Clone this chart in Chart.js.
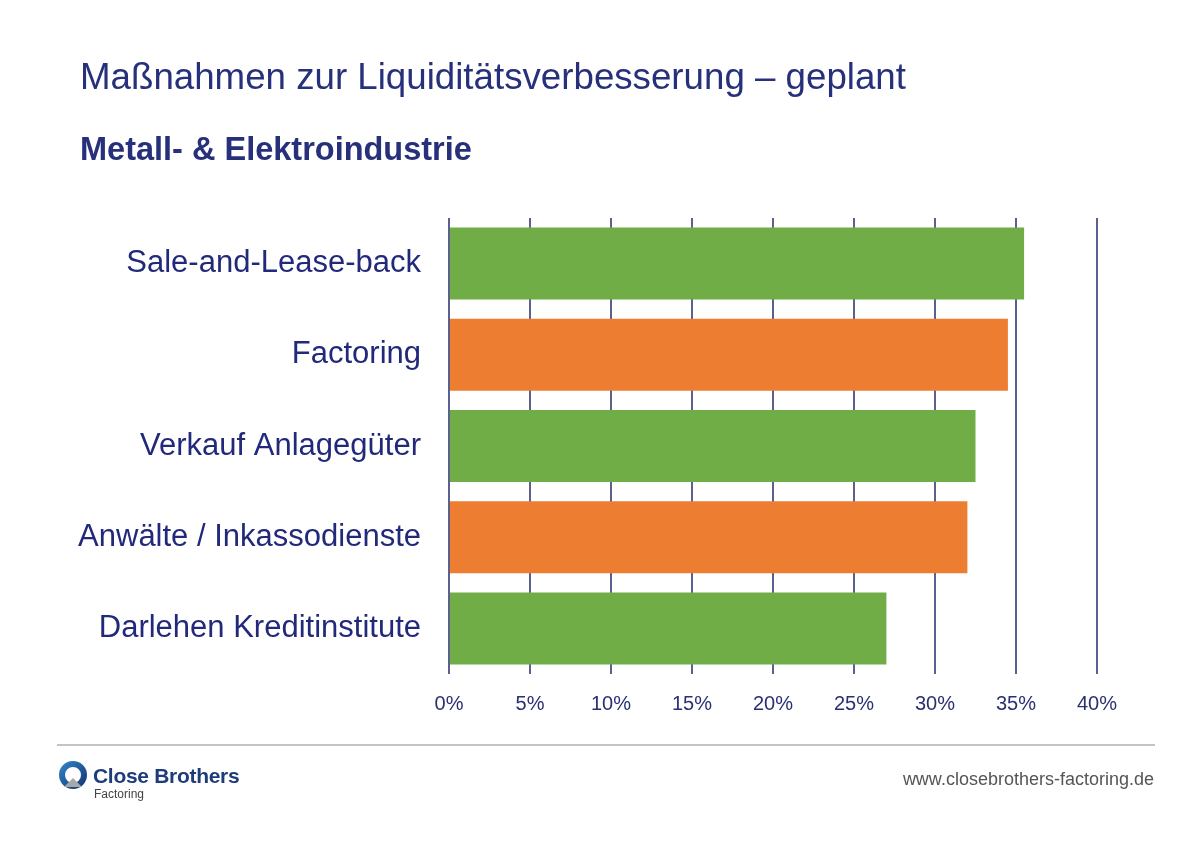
<!DOCTYPE html>
<html>
<head>
<meta charset="utf-8">
<script src="https://cdn.jsdelivr.net/npm/chart.js@4"></script>
<style>
  body { margin: 0; background: #fff; font-family: "Liberation Sans", Arial, sans-serif; }
  #wrap { position: relative; width: 1203px; height: 845px; overflow: hidden; }
  #chart { position: absolute; left: 0; top: 0; }
  .title { position: absolute; left: 80px; top: 56px; font-size: 36.7px; color: #27307a; white-space: nowrap; }
  .sub { position: absolute; left: 80px; top: 131px; font-size: 32.5px; font-weight: bold; color: #27307a; white-space: nowrap; }
  .rule { position: absolute; left: 57px; top: 744px; width: 1098px; height: 2px; background: #c4c4c4; }
  .logo { position: absolute; left: 58px; top: 760px; }
  .brand { position: absolute; left: 93px; top: 764px; font-size: 21px; font-weight: bold; color: #1f3c7a; letter-spacing: -0.3px; }
  .brand2 { position: absolute; left: 94px; top: 787px; font-size: 12px; color: #444; }
  .url { position: absolute; right: 49px; top: 769px; font-size: 18px; color: #555; }
</style>
</head>
<body>
<div id="wrap">
  <canvas id="chart" width="1203" height="845"></canvas>
  <div class="title">Maßnahmen zur Liquiditätsverbesserung – geplant</div>
  <div class="sub">Metall- &amp; Elektroindustrie</div>
  <div class="rule"></div>
  <svg class="logo" width="32" height="34" viewBox="0 0 32 34">
    <defs>
      <linearGradient id="g1" x1="0" y1="0" x2="1" y2="1">
        <stop offset="0" stop-color="#2f7fc1"/>
        <stop offset="1" stop-color="#163a78"/>
      </linearGradient>
    </defs>
    <circle cx="15" cy="15" r="11" fill="none" stroke="url(#g1)" stroke-width="6"/>
    <polygon points="6,27 15,18 24,27" fill="#a8a8a8"/>
  </svg>
  <div class="brand">Close Brothers</div>
  <div class="brand2">Factoring</div>
  <div class="url">www.closebrothers-factoring.de</div>
</div>
<script>
const categories = ['Sale-and-Lease-back', 'Factoring', 'Verkauf Anlagegüter', 'Anwälte / Inkassodienste', 'Darlehen Kreditinstitute'];
const values = [35.5, 34.5, 32.5, 32, 27];
const barColors = ['#70ad47', '#ed7d31', '#70ad47', '#ed7d31', '#70ad47'];
const tickValues = [0, 5, 10, 15, 20, 25, 30, 35, 40];

const ctx = document.getElementById('chart').getContext('2d');
const myChart = new Chart(ctx, {
  type: 'bar',
  data: {
    labels: categories,
    datasets: [{
      data: values,
      backgroundColor: barColors,
      borderWidth: 0,
      barPercentage: 0.79,
      categoryPercentage: 1
    }]
  },
  options: {
    indexAxis: 'y',
    responsive: false,
    animation: false,
    layout: { padding: { top: 218, right: 106, bottom: 0, left: 0 } },
    plugins: { legend: { display: false }, tooltip: { enabled: false } },
    scales: {
      x: {
        min: 0,
        max: 40,
        afterBuildTicks: function (scale) {
          scale.ticks = tickValues.map(v => ({ value: v }));
        },
        afterFit: function (scale) { scale.height = 171; },
        grid: { color: '#5b608f', lineWidth: 2, drawTicks: false },
        border: { display: false },
        ticks: {
          padding: 18,
          color: '#2a3070',
          font: { family: 'Liberation Sans', size: 20 },
          callback: v => v + '%'
        }
      },
      y: {
        afterFit: function (scale) { scale.width = 449; },
        grid: { display: false },
        border: { display: false },
        ticks: {
          padding: 20,
          color: '#22297a',
          font: { family: 'Liberation Sans', size: 31 }
        }
      }
    }
  }
});
</script>
</body>
</html>
